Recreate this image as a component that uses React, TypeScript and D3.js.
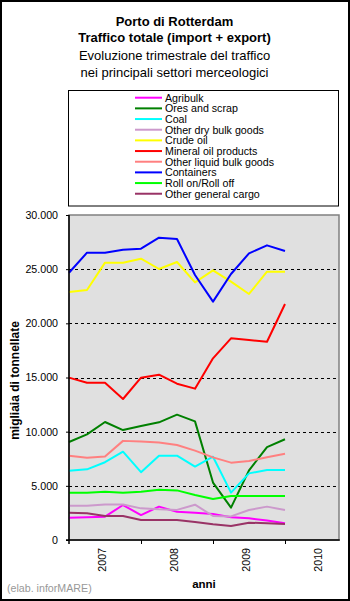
import { useEffect, useRef } from "react";
import * as d3 from "d3";

// categorie: trimestri 2007-2010
const quarters = [
  "I 2007", "II 2007", "III 2007", "IV 2007",
  "I 2008", "II 2008", "III 2008", "IV 2008",
  "I 2009", "II 2009", "III 2009", "IV 2009",
  "I 2010", "II 2010", "III 2010", "IV 2010",
];
const yearLabels = ["2007", "2008", "2009", "2010"];
const yTicks = [0, 5000, 10000, 15000, 20000, 25000, 30000];

// migliaia di tonnellate per trimestre (I 2007 - I 2010)
const agribulk = [2050, 2100, 2150, 3230, 2300, 3080, 2600, 2520, 2400, 2090, 2000, 1790, 1540];
const oresScrap = [9050, 9750, 10890, 10150, 10520, 10860, 11570, 10950, 5300, 2990, 6430, 8580, 9300];
const coal = [6400, 6520, 7180, 8150, 6260, 7785, 7785, 6780, 7690, 4370, 6150, 6460, 6460];
const otherDryBulk = [3170, 3170, 3280, 3280, 2920, 2830, 2780, 3260, 2215, 2180, 2770, 3080, 2770];
const crudeOil = [22890, 23080, 25600, 25600, 25970, 25015, 25660, 23785, 24890, 23845, 22710, 24770, 24770];
const mineralOil = [14985, 14520, 14520, 13015, 14985, 15260, 14430, 13970, 16770, 18615, 18460, 18305, 21785];
const otherLiquidBulk = [7785, 7600, 7700, 9150, 9090, 9000, 8770, 8250, 7630, 7140, 7300, 7630, 7970];
const containers = [24670, 26520, 26520, 26800, 26890, 27905, 27785, 24460, 22000, 24555, 26460, 27200, 26680];
const roRo = [4370, 4370, 4460, 4370, 4460, 4646, 4580, 4150, 3790, 4062, 4062, 4062, 4062];
const otherGeneral = [2523, 2460, 2215, 2215, 1846, 1846, 1846, 1660, 1446, 1292, 1600, 1540, 1477];

const seriesNames = [
  "Agribulk",
  "Ores and scrap",
  "Coal",
  "Other dry bulk goods",
  "Crude oil",
  "Mineral oil products",
  "Other liquid bulk goods",
  "Containers",
  "Roll on/Roll off",
  "Other general cargo",
];
const seriesValues = [
  agribulk, oresScrap, coal, otherDryBulk, crudeOil,
  mineralOil, otherLiquidBulk, containers, roRo, otherGeneral,
];
const seriesColors = [
  "#FF00FF", "#008000", "#00FFFF", "#CC99CC", "#FFFF00",
  "#FF0000", "#FF8080", "#0000FF", "#00FF00", "#993366",
];

const W = 350;
const H = 601;
const FONT = "'Liberation Sans', Arial, sans-serif";

const App = () => {
  const svgRef = useRef<SVGSVGElement | null>(null);

  useEffect(() => {
    const svg = d3.select(svgRef.current as SVGSVGElement);
    svg.selectAll("*").remove();
    svg.attr("font-family", FONT);

    const x = d3.scalePoint<string>().domain(quarters).range([69, 339]);
    const y = d3.scaleLinear().domain([0, 30000]).range([540, 215]);
    const step = x.step();

    const it = d3.formatLocale({
      decimal: ",",
      thousands: ".",
      grouping: [3],
      currency: ["", " €"],
    });
    const fmt = it.format(",d");

    // cornice esterna
    svg
      .append("rect")
      .attr("x", 1)
      .attr("y", 1)
      .attr("width", W - 2)
      .attr("height", H - 2)
      .attr("fill", "#fff")
      .attr("stroke", "#000")
      .attr("stroke-width", 2);

    // titolo
    const titleLines = [
      { t: "Porto di Rotterdam", bold: true, y: 26 },
      { t: "Traffico totale (import + export)", bold: true, y: 42 },
      { t: "Evoluzione trimestrale del traffico", bold: false, y: 59.5 },
      { t: "nei principali settori merceologici", bold: false, y: 76.5 },
    ];
    svg
      .append("g")
      .selectAll("text")
      .data(titleLines)
      .join("text")
      .attr("x", 174.5)
      .attr("y", (d) => d.y)
      .attr("text-anchor", "middle")
      .attr("font-size", 13)
      .attr("font-weight", (d) => (d.bold ? "bold" : "normal"))
      .text((d) => d.t);

    // legenda
    const lg = svg.append("g");
    lg.append("rect")
      .attr("x", 68.5)
      .attr("y", 90.5)
      .attr("width", 270)
      .attr("height", 115.5)
      .attr("fill", "#fff")
      .attr("stroke", "#000")
      .attr("stroke-width", 1);
    const rows = lg
      .selectAll("g")
      .data(seriesNames)
      .join("g")
      .attr("transform", (_, i) => `translate(0,${97.7 + i * 10.67})`);
    rows
      .append("line")
      .attr("x1", 135)
      .attr("x2", 162)
      .attr("stroke", (_, i) => seriesColors[i])
      .attr("stroke-width", 2);
    rows
      .append("text")
      .attr("x", 165)
      .attr("dy", "0.36em")
      .attr("font-size", 10.67)
      .text((d) => d);

    // area del grafico
    svg
      .append("rect")
      .attr("x", 69)
      .attr("y", 215)
      .attr("width", 270)
      .attr("height", 325)
      .attr("fill", "#E0E0E0")
      .attr("stroke", "#808080")
      .attr("stroke-width", 1.5);

    // griglia tratteggiata
    svg
      .append("g")
      .selectAll("line")
      .data(yTicks.filter((d) => d > 0 && d < 30000))
      .join("line")
      .attr("x1", 69)
      .attr("x2", 339)
      .attr("y1", (d) => Math.round(y(d)) + 0.5)
      .attr("y2", (d) => Math.round(y(d)) + 0.5)
      .attr("stroke", "#000")
      .attr("stroke-dasharray", "3,3");

    // serie
    const line = d3
      .line<number>()
      .x((_, i) => x(quarters[i]) as number)
      .y((d) => y(d));
    svg
      .append("g")
      .attr("fill", "none")
      .attr("stroke-width", 2)
      .attr("stroke-linejoin", "round")
      .selectAll("path")
      .data(seriesValues)
      .join("path")
      .attr("stroke", (_, i) => seriesColors[i])
      .attr("d", (d) => line(d));

    // asse y
    const gy = svg
      .append("g")
      .attr("transform", "translate(69,0)")
      .call(
        d3
          .axisLeft(y)
          .tickValues(yTicks)
          .tickSize(3)
          .tickPadding(8)
          .tickFormat((d) => fmt(d as number))
      );
    gy.select(".domain").remove();
    gy.selectAll("text").attr("font-size", 10.67).attr("font-family", FONT).attr("fill", "#000");
    gy.selectAll("line").attr("stroke", "#000");

    // asse x
    const gx = svg
      .append("g")
      .attr("transform", "translate(0,540)")
      .call(
        d3
          .axisBottom(x)
          .tickValues(quarters.filter((_, i) => i % 4 === 0 && i > 0))
          .tickSize(4)
          .tickFormat(() => "")
      );
    gx.select(".domain").remove();
    gx.selectAll("line").attr("stroke", "#000");

    svg
      .append("line")
      .attr("x1", 69)
      .attr("x2", 69)
      .attr("y1", 215)
      .attr("y2", 544)
      .attr("stroke", "#000")
      .attr("stroke-width", 1.5);
    svg
      .append("line")
      .attr("x1", 66)
      .attr("x2", 339.75)
      .attr("y1", 540)
      .attr("y2", 540)
      .attr("stroke", "#000")
      .attr("stroke-width", 1.5);

    // etichette anni (ruotate)
    svg
      .append("g")
      .selectAll("text")
      .data(yearLabels)
      .join("text")
      .attr("transform", (_, i) => {
        const cx = (x(quarters[i * 4]) as number) + 2 * step - 3;
        return `translate(${cx},548) rotate(-90)`;
      })
      .attr("text-anchor", "end")
      .attr("dy", "0.35em")
      .attr("font-size", 10.67)
      .text((d) => d);

    // titoli assi
    svg
      .append("text")
      .attr("transform", `translate(15,${(215 + 540) / 2 + 3}) rotate(-90)`)
      .attr("text-anchor", "middle")
      .attr("dy", "0.35em")
      .attr("font-size", 12)
      .attr("font-weight", "bold")
      .text("migliaia di tonnellate");
    svg
      .append("text")
      .attr("x", 204)
      .attr("y", 588)
      .attr("text-anchor", "middle")
      .attr("font-size", 11.5)
      .attr("font-weight", "bold")
      .text("anni");

    svg
      .append("text")
      .attr("x", 7)
      .attr("y", 592)
      .attr("font-size", 10.67)
      .attr("fill", "#999")
      .text("(elab. inforMARE)");
  }, []);

  return (
    <div style={{ position: "absolute", left: 0, top: 0, width: W, height: H }}>
      <svg ref={svgRef} width={W} height={H} style={{ display: "block" }}></svg>
    </div>
  );
};

export default App;
